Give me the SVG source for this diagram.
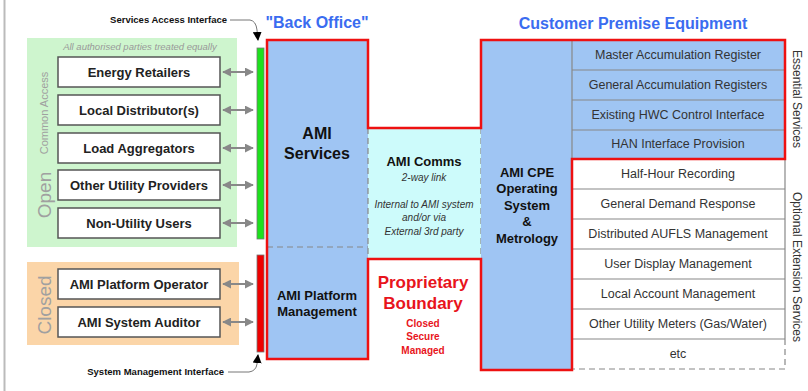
<svg xmlns="http://www.w3.org/2000/svg" width="808" height="391" viewBox="0 0 808 391">
<defs>
<marker id="ah" viewBox="0 0 10 10" refX="9" refY="5" markerWidth="4.5" markerHeight="4.5" orient="auto-start-reverse"><path d="M0,0 L10,5 L0,10 z" fill="#888"/></marker>
<marker id="blk" viewBox="0 0 10 10" refX="9" refY="5" markerWidth="9" markerHeight="9" markerUnits="userSpaceOnUse" orient="auto"><path d="M0,0 L10,5 L0,10 z" fill="#000"/></marker>
<style>
text{font-family:"Liberation Sans",Arial,sans-serif}
.pbox rect{fill:#fff;stroke:#555;stroke-width:1.5}
.pbox text{font-size:13px;font-weight:bold;fill:#222;text-anchor:middle}
.dbl{stroke:#888;stroke-width:2;fill:none;marker-start:url(#ah);marker-end:url(#ah)}
.svc text{font-size:12.5px;fill:#333;text-anchor:middle}
.row{stroke:#888;stroke-width:1.2}
.big{font-weight:bold;fill:#111;text-anchor:middle}
.it{font-style:italic;font-size:10px;fill:#333;text-anchor:middle}
.red{fill:#e8141c;font-weight:bold;text-anchor:middle}
.rot{fill:#a0a0a0;text-anchor:middle}
.note{font-size:9.5px;font-weight:bold;fill:#111}
</style>
</defs>
<line x1="4.5" y1="0" x2="4.5" y2="391" stroke="#bbb" stroke-width="2"/>

<g id="open-group">
<rect x="27" y="38" width="210" height="209" fill="#cef5ce"/>
<text x="140" y="50" style="font-size:9.5px;font-style:italic;fill:#999;text-anchor:middle">All authorised parties treated equally</text>
<text class="rot" transform="translate(48,113) rotate(-90)" style="font-size:11px">Common Access</text>
<text class="rot" transform="translate(51,195) rotate(-90)" style="font-size:19px">Open</text>
</g>
<g id="closed-group">
<rect x="27" y="262" width="212" height="83" fill="#fbd5a8"/>
<text class="rot" transform="translate(51,305) rotate(-90)" style="font-size:19px">Closed</text>
</g>

<g id="energy-retailers" class="pbox"><rect x="58" y="57" width="162" height="30"/><text x="139" y="77">Energy Retailers</text></g>
<g id="local-distributor" class="pbox"><rect x="58" y="95" width="162" height="30"/><text x="139" y="115">Local Distributor(s)</text></g>
<g id="load-aggregators" class="pbox"><rect x="58" y="133" width="162" height="30"/><text x="139" y="153">Load Aggregators</text></g>
<g id="other-utility-providers" class="pbox"><rect x="58" y="170" width="162" height="30"/><text x="139" y="190">Other Utility Providers</text></g>
<g id="non-utility-users" class="pbox"><rect x="58" y="208" width="162" height="30"/><text x="139" y="228">Non-Utility Users</text></g>
<g id="ami-platform-operator" class="pbox"><rect x="58" y="269" width="162" height="30"/><text x="139" y="289">AMI Platform Operator</text></g>
<g id="ami-system-auditor" class="pbox"><rect x="58" y="307" width="162" height="30"/><text x="139" y="327">AMI System Auditor</text></g>

<g id="services-access-interface">
<rect x="257" y="48" width="7" height="191" fill="#1ee01e" stroke="#777" stroke-width="0.8"/>
<text class="note" x="227" y="23" text-anchor="end">Services Access Interface</text>
</g>
<g id="system-management-interface">
<rect x="257" y="255" width="7" height="97" fill="#ee0000" stroke="#777" stroke-width="0.8"/>
<text class="note" x="224" y="375" text-anchor="end">System Management Interface</text>
</g>

<g id="back-office">
<rect x="267" y="40" width="101" height="319" fill="#9fc5f3"/>
<line x1="267" y1="247" x2="368" y2="247" stroke="#888" stroke-width="1.2" stroke-dasharray="6,4"/>
<text x="317" y="28" style="font-size:16px;font-weight:bold;fill:#3a6cf0;text-anchor:middle">"Back Office"</text>
</g>
<g id="ami-services">
<text class="big" x="317" y="139" style="font-size:16px">AMI</text>
<text class="big" x="317" y="159" style="font-size:16px">Services</text>
</g>
<g id="ami-platform-management">
<text class="big" x="317" y="300" style="font-size:13px">AMI Platform</text>
<text class="big" x="317" y="316" style="font-size:13px">Management</text>
</g>

<g id="ami-comms">
<rect x="368" y="128" width="113" height="131" fill="#cdfbfb"/>
<line x1="368" y1="128" x2="368" y2="259" stroke="#888" stroke-width="1.2" stroke-dasharray="6,4"/>
<line x1="481" y1="128" x2="481" y2="259" stroke="#888" stroke-width="1.2" stroke-dasharray="6,4"/>
<text class="big" x="424" y="166" style="font-size:13px">AMI Comms</text>
<text class="it" x="424" y="181">2-way link</text>
<text class="it" x="424" y="208">Internal to AMI system</text>
<text class="it" x="424" y="221">and/or via</text>
<text class="it" x="424" y="235">External 3rd party</text>
</g>

<g id="proprietary-boundary">
<text class="red" x="423" y="288" style="font-size:17px">Proprietary</text>
<text class="red" x="423" y="309" style="font-size:17px">Boundary</text>
<text class="red" x="423" y="327" style="font-size:10px">Closed</text>
<text class="red" x="423" y="340" style="font-size:10px">Secure</text>
<text class="red" x="423" y="354" style="font-size:10px">Managed</text>
</g>

<g id="cpe">
<text x="633" y="29" style="font-size:16px;font-weight:bold;fill:#3a6cf0;text-anchor:middle">Customer Premise Equipment</text>
<rect x="481" y="40" width="91" height="330" fill="#9fc5f3"/>
<text class="big" x="527" y="177" style="font-size:13px">AMI CPE</text>
<text class="big" x="527" y="193" style="font-size:13px">Operating</text>
<text class="big" x="527" y="210" style="font-size:13px">System</text>
<text class="big" x="527" y="226" style="font-size:13px">&amp;</text>
<text class="big" x="527" y="243" style="font-size:13px">Metrology</text>
</g>

<g id="essential-services" class="svc">
<rect x="572" y="40" width="213" height="119" fill="#9fc5f3"/>
<line class="row" x1="572" y1="70" x2="785" y2="70"/>
<line class="row" x1="572" y1="100" x2="785" y2="100"/>
<line class="row" x1="572" y1="130" x2="785" y2="130"/>
<line class="row" x1="572" y1="40" x2="572" y2="159"/>
<text x="678" y="59">Master Accumulation Register</text>
<text x="678" y="89">General Accumulation Registers</text>
<text x="678" y="119">Existing HWC Control Interface</text>
<text x="678" y="148">HAN Interface Provision</text>
<text class="rot" transform="translate(793,99) rotate(90)" style="font-size:12px">Essential Services</text>
</g>

<g id="optional-services" class="svc">
<rect x="572" y="159" width="213" height="210" fill="#fff"/>
<line class="row" x1="572" y1="189" x2="785" y2="189"/>
<line class="row" x1="572" y1="219" x2="785" y2="219"/>
<line class="row" x1="572" y1="249" x2="785" y2="249"/>
<line class="row" x1="572" y1="279" x2="785" y2="279"/>
<line class="row" x1="572" y1="309" x2="785" y2="309"/>
<line class="row" x1="572" y1="339" x2="785" y2="339"/>
<line class="row" x1="785" y1="159" x2="785" y2="339"/>
<path d="M785,339 V369 H572" fill="none" stroke="#888" stroke-width="1.2" stroke-dasharray="6,4"/>
<text x="678" y="178">Half-Hour Recording</text>
<text x="678" y="208">General Demand Response</text>
<text x="678" y="238">Distributed AUFLS Management</text>
<text x="678" y="268">User Display Management</text>
<text x="678" y="298">Local Account Management</text>
<text x="678" y="328">Other Utility Meters (Gas/Water)</text>
<text x="678" y="358">etc</text>
<text class="rot" transform="translate(793,267) rotate(90)" style="font-size:12px">Optional Extension Services</text>
</g>

<g id="boundary-outline">
<path d="M267,40 H368 V128 H481 V40 H785 V159 H572 V370 H481 V259 H368 V359 H267 Z" fill="none" stroke="#ee1111" stroke-width="2.5" stroke-linejoin="miter"/>
</g>

<g id="connectors">
<line class="dbl" x1="223" y1="72" x2="253" y2="72"/>
<line class="dbl" x1="223" y1="110" x2="253" y2="110"/>
<line class="dbl" x1="223" y1="148" x2="253" y2="148"/>
<line class="dbl" x1="223" y1="185" x2="253" y2="185"/>
<line class="dbl" x1="223" y1="223" x2="253" y2="223"/>
<line class="dbl" x1="223" y1="284" x2="253" y2="284"/>
<line class="dbl" x1="223" y1="322" x2="253" y2="322"/>
<path d="M230,20 H250 Q256,21 257,30 L258,40" fill="none" stroke="#777" stroke-width="1" marker-end="url(#blk)"/>
<path d="M228,372 H249 Q256,371 257,364 L258,355" fill="none" stroke="#777" stroke-width="1" marker-end="url(#blk)"/>
</g>
</svg>
